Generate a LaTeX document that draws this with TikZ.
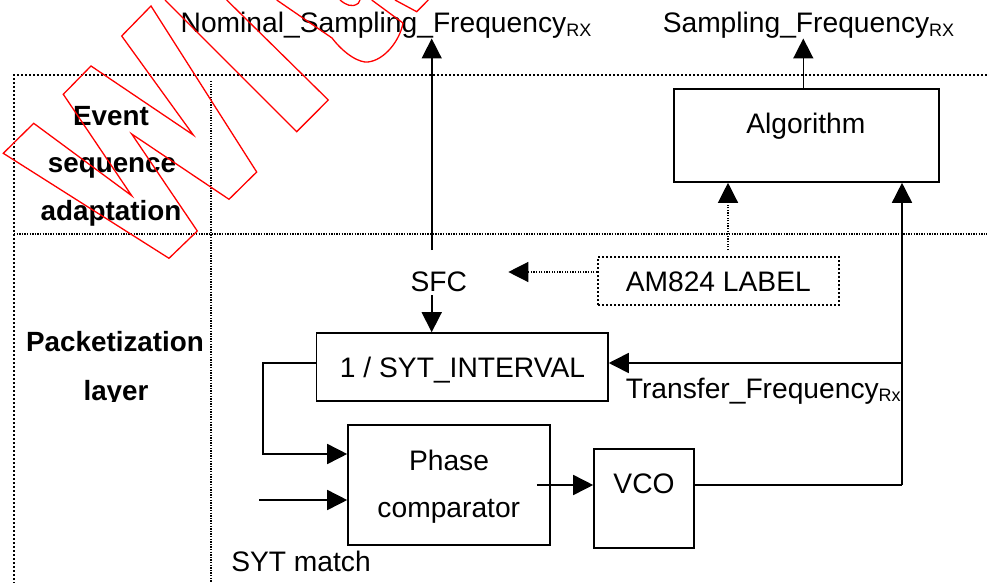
\documentclass[tikz,border=0pt]{standalone}
\usepackage{fontspec}
\setmainfont{Liberation Sans}
\usetikzlibrary{arrows.meta,calc}
\newcommand\sbx[1]{\raisebox{-3.5pt}{\fontsize{18}{18}\selectfont #1}}
\begin{document}
\begin{tikzpicture}[x=1pt,y=-1pt,
  box/.style={draw,line width=1.6pt,inner sep=0pt,rectangle},
  txt/.style={inner sep=0pt,anchor=base,font=\fontsize{28.2}{30}\selectfont},
  btxt/.style={inner sep=0pt,anchor=base,font=\fontsize{27.8}{30}\selectfont\bfseries},
  arr/.style={line width=1.6pt,-{Triangle[length=20pt,width=20pt]}},
  ln/.style={line width=1.6pt},
  darr/.style={line width=1.3pt,dash pattern=on 1.3pt off 1.3pt,-{Triangle[length=20pt,width=20pt]}},
  framethick/.style={line width=2pt,dash pattern=on 2pt off 2pt},
  framethin/.style={line width=1.3pt,dash pattern=on 1.3pt off 1.3pt},
  wm/.style={draw=red,line width=1.3pt,line join=miter}
]
\useasboundingbox (0,0) rectangle (987,583);
% frame
\coordinate (ftl) at (14,75); \coordinate (ftr) at (987,75); \coordinate (fbl) at (14,583);
\coordinate (mhl) at (14,234); \coordinate (mhr) at (987,234);
\coordinate (ivt) at (211,81); \coordinate (ivb) at (211,583);
\draw[framethick] (ftr) -- (ftl) -- (fbl);
\draw[framethin] (mhl) -- (mhr);
\draw[framethin] (ivt) -- (ivb);
% boxes
\node[box,minimum width=265pt,minimum height=93pt] (alg) at (806.5,135.5) {};
\node[box,line width=2pt,dash pattern=on 2pt off 2pt,minimum width=241pt,minimum height=48pt] (am) at (718.5,281) {};
\node[box,minimum width=291.3pt,minimum height=68pt] (syt) at (462.3,367) {};
\node[box,minimum width=202pt,minimum height=120pt] (phase) at (449,485) {};
\node[box,minimum width=100pt,minimum height=99pt] (vco) at (644,498.5) {};
% texts
\node[txt] (nomt) at (386,33) {Nominal\_Sampling\_Frequency\sbx{RX}};
\node[txt] (sampt) at (808.5,33) {Sampling\_Frequency\sbx{RX}};
\node[txt] (algt) at (805.8,133) {Algorithm};
\node[txt] (amt) at (718.3,291.7) {AM824 LABEL};
\node[txt] (sfct) at (438.8,291) {SFC};
\node[txt] (sytt) at (462.5,377) {1 / SYT\_INTERVAL};
\node[txt] (trt) at (763.3,398.3) {Transfer\_Frequency\sbx{Rx}};
\node[txt] (pht) at (449,470) {Phase};
\node[txt] (cmpt) at (448.8,517) {comparator};
\node[txt] (vcot) at (644,493.3) {VCO};
\node[txt] (symt) at (301,571.7) {SYT match};
\node[btxt] (ev1) at (111,125) {Event};
\node[btxt] (ev2) at (112,172) {sequence};
\node[btxt] (ev3) at (111,220) {adaptation};
\node[btxt] (pk1) at (115,351.7) {Packetization};
\begin{scope}
\clip (14,234) rectangle (211,401);
\node[btxt] (pk2) at (116,400) {layer};
\end{scope}
% connectors
\coordinate (nomfoot) at (431.7,250); \coordinate (nomtip) at (431.7,38.5);
\draw[arr] (nomfoot) -- (nomtip);
\coordinate (sfcfoot) at (431.7,295);
\draw[arr] (sfcfoot) -- (sfcfoot |- syt.north);
\coordinate (sampx) at (803.3,38.5);
\draw[arr] (sampx |- alg.north) -- (sampx);
\coordinate (amup) at (728,250);
\draw[darr] (amup) -- (amup |- alg.south);
\coordinate (amtip) at (508.3,272);
\draw[darr] (am.west |- amtip) -- (amtip);
\coordinate (fbx) at (902,485);
\draw[ln] ([yshift=13.5pt]vco.east) -- (fbx);
\draw[arr] (fbx) -- (fbx |- alg.south);
\coordinate (br) at (902,363);
\draw[arr] (br) -- (br -| syt.east);
\draw[arr] ([xshift=-14pt]phase.east) -- (vco.west |- phase.east);
\coordinate (lp1) at (263,363); \coordinate (lp2) at (263,454);
\draw[arr] (syt.west |- lp1) -- (lp1) -- (lp2) -- (lp2 -| phase.west);
\coordinate (syin) at (259,500);
\draw[arr] (syin) -- (syin -| phase.west);
% watermark
\draw[wm] (3.3,153.3) -- (33.7,123.3) -- (131.7,195.7) -- (63.3,94.3) -- (91,66) -- (193.3,135) -- (121.7,36) -- (151,6) -- (256.7,172) -- (229,199.3) -- (131.7,134) -- (197.3,231) -- (169,258.3) -- cycle;
\draw[wm] (165,0) -- (296.7,131.7) -- (328.3,100) -- (226.7,0);
\draw[wm] (276.7,0) -- (332,38) .. controls (345,55) and (360,63) .. (368,62) .. controls (385,60) and (400,40) .. (403,23) -- (371.7,0);
\draw[wm] (340,0) .. controls (346,5) and (352,8) .. (358.3,3.3) -- (360,0);
\draw[wm] (395,0) -- (416.7,11.7) -- (428.3,0);
\end{tikzpicture}
\end{document}
